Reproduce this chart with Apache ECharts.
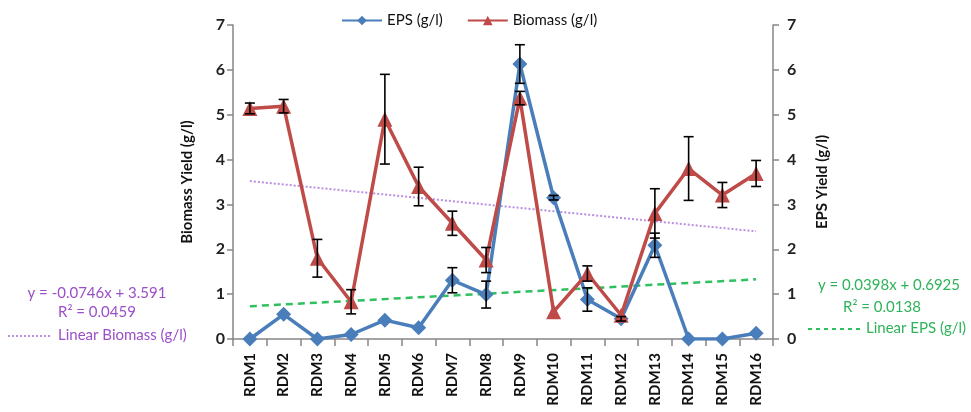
<!DOCTYPE html>
<html><head><meta charset="utf-8">
<script src="https://cdn.jsdelivr.net/npm/echarts@6/dist/echarts.min.js"></script>
<style>html,body{margin:0;padding:0;background:#fff}#c{width:971px;height:412px}</style>
</head><body><div id="c"></div>
<script>
const categories = ['RDM1','RDM2','RDM3','RDM4','RDM5','RDM6','RDM7','RDM8','RDM9','RDM10','RDM11','RDM12','RDM13','RDM14','RDM15','RDM16'];
const eps = [0, 0.55, 0, 0.1, 0.42, 0.25, 1.31, 0.99, 6.13, 3.15, 0.88, 0.45, 2.09, 0, 0, 0.13];
const epsErr = [0, 0, 0, 0, 0, 0, 0.28, 0.3, 0.43, 0.05, 0.26, 0.05, 0.27, 0, 0, 0];
const biomass = [5.14, 5.19, 1.8, 0.83, 4.9, 3.4, 2.58, 1.76, 5.37, 0.61, 1.46, 0.53, 2.8, 3.8, 3.21, 3.69];
const biomassErr = [0.12, 0.15, 0.42, 0.27, 1.0, 0.43, 0.27, 0.28, 0.15, 0, 0.17, 0, 0.55, 0.71, 0.28, 0.29];
const biomassTrend = [3.52, 2.40];
const epsTrend = [0.73, 1.33];
const yTicks = [0, 1, 2, 3, 4, 5, 6, 7];

const FONT = 'Lato';
const PURPLE_TXT = '#9b4fc9', PURPLE_LN = '#b98fe0';
const GREEN_TXT = '#2fb35a', GREEN_LN = '#2fc060';
const chart = echarts.init(document.getElementById('c'));
function errData(vals, errs){ return vals.map((v,i)=>[i, v-errs[i], v+errs[i]]).filter((d,i)=>errs[i]>0); }
function errRender(params, api){
  const x = api.value(0);
  const lo = api.coord([x, api.value(1)]);
  const hi = api.coord([x, api.value(2)]);
  const w = 5;
  const st = {stroke:'#000', lineWidth:1.6};
  return {type:'group', children:[
    {type:'line', shape:{x1:lo[0],y1:lo[1],x2:hi[0],y2:hi[1]}, style:st},
    {type:'line', shape:{x1:lo[0]-w,y1:lo[1],x2:lo[0]+w,y2:lo[1]}, style:st},
    {type:'line', shape:{x1:hi[0]-w,y1:hi[1],x2:hi[0]+w,y2:hi[1]}, style:st}
  ]};
}
const axisCommon = {
  type:'value', min:0, max:7, interval:1,
  axisLine:{show:true, lineStyle:{color:'#868686', width:1.5}},
  axisTick:{show:true, length:6, lineStyle:{color:'#868686', width:1.5}},
  splitLine:{show:false},
  axisLabel:{color:'#222', fontFamily:FONT, fontSize:16, fontWeight:'bold',
    formatter:v=> yTicks.includes(v)? String(v):''},
  nameLocation:'middle', nameRotate:90,
  nameTextStyle:{color:'#111', fontFamily:FONT, fontSize:15, fontWeight:'bold'}
};
function txt(t, x, y, color){
  return {type:'text', style:{text:t, x:x, y:y, align:'center', verticalAlign:'middle', fill:color, font:'15px '+FONT}};
}
chart.setOption({
  animation:false,
  grid:{left:233, right:198, top:25, bottom:73},
  legend:[
    {data:['EPS (g/l)','Biomass (g/l)'], left:336, top:8, itemWidth:40, itemHeight:12, itemGap:24,
      textStyle:{fontFamily:FONT, fontSize:15, color:'#111'}}
  ],
  xAxis:{type:'category', data:categories, boundaryGap:true,
    axisLine:{lineStyle:{color:'#868686', width:1.5}},
    axisTick:{show:true, length:7, interval:0, lineStyle:{color:'#868686', width:1.5}},
    axisLabel:{rotate:90, interval:0, margin:14, color:'#111', fontFamily:FONT, fontSize:15, fontWeight:'bold'}},
  yAxis:[
    Object.assign({}, axisCommon, {position:'left', name:'Biomass Yield (g/l)', nameGap:38}),
    Object.assign({}, axisCommon, {position:'right', name:'EPS Yield (g/l)', nameGap:42,
      axisLabel:Object.assign({}, axisCommon.axisLabel, {margin:14})})
  ],
  graphic:[
    txt('y = -0.0746x + 3.591', 97, 293, PURPLE_TXT),
    txt('R² = 0.0459', 97, 312, PURPLE_TXT),
    {type:'line', shape:{x1:8, y1:336, x2:50, y2:336}, style:{stroke:PURPLE_LN, lineWidth:2, lineDash:[2,2]}},
    {type:'text', style:{text:'Linear Biomass (g/l)', x:58, y:335, align:'left', verticalAlign:'middle', fill:PURPLE_TXT, font:'15px '+FONT}},
    txt('y = 0.0398x + 0.6925', 889, 285, GREEN_TXT),
    txt('R² = 0.0138', 882, 307, GREEN_TXT),
    {type:'line', shape:{x1:808, y1:329, x2:860, y2:329}, style:{stroke:GREEN_LN, lineWidth:2, lineDash:[4,4]}},
    {type:'text', style:{text:'Linear EPS (g/l)', x:866, y:328, align:'left', verticalAlign:'middle', fill:GREEN_TXT, font:'15px '+FONT}}
  ],
  series:[
    {name:'Linear Biomass (g/l)', type:'line', yAxisIndex:0, data:[[0,biomassTrend[0]],[15,biomassTrend[1]]],
      symbol:'none', lineStyle:{color:PURPLE_LN, width:2, type:'dotted'}, itemStyle:{color:PURPLE_LN}, z:1},
    {name:'Linear EPS (g/l)', type:'line', yAxisIndex:1, data:[[0,epsTrend[0]],[15,epsTrend[1]]],
      symbol:'none', lineStyle:{color:GREEN_LN, width:2.5, type:[7,5]}, itemStyle:{color:GREEN_LN}, z:1},
    {name:'EPS (g/l)', type:'line', yAxisIndex:1, data:eps, symbol:'diamond', symbolSize:15,
      lineStyle:{color:'#4a7ebb', width:3.5}, itemStyle:{color:'#4a7ebb'}, z:3},
    {name:'Biomass (g/l)', type:'line', yAxisIndex:0, data:biomass, symbol:'triangle', symbolSize:15,
      lineStyle:{color:'#be4b48', width:3.5}, itemStyle:{color:'#be4b48'}, z:4},
    {type:'custom', yAxisIndex:1, data:errData(eps, epsErr), renderItem:errRender, z:5, silent:true},
    {type:'custom', yAxisIndex:0, data:errData(biomass, biomassErr), renderItem:errRender, z:5, silent:true}
  ]
});
</script></body></html>
